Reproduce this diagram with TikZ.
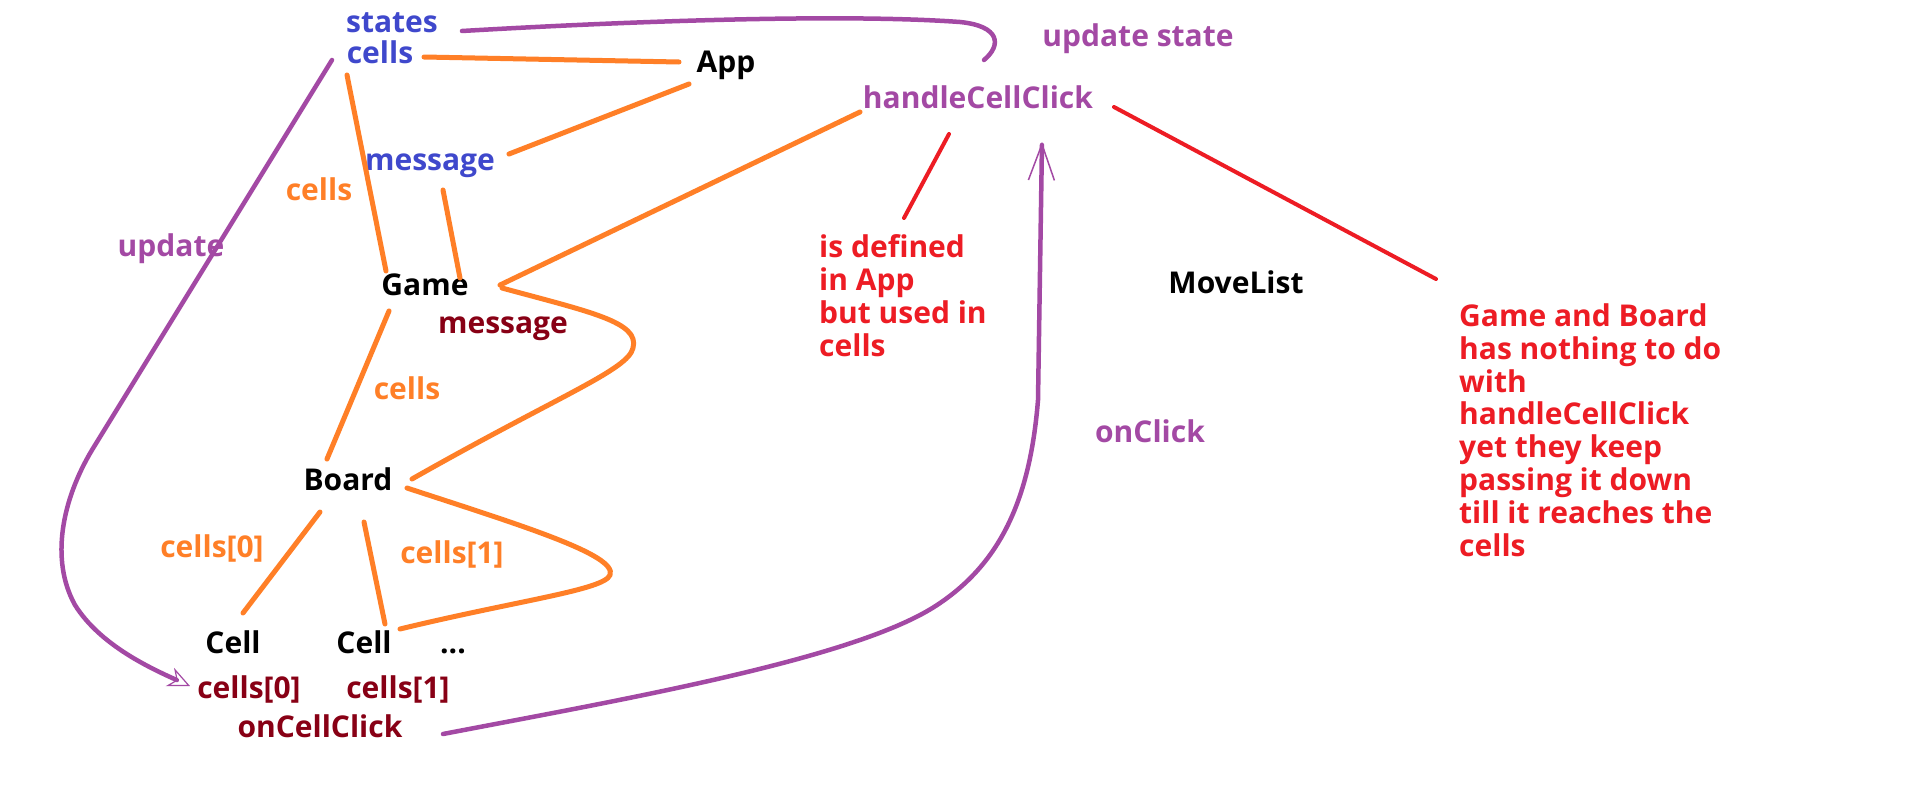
\documentclass[tikz,border=0pt]{standalone}
\usepackage{fontspec}
\setmainfont{Open Sans}
\usetikzlibrary{arrows.meta}
\definecolor{cblue}{HTML}{3F48CC}
\definecolor{corange}{HTML}{FF7F27}
\definecolor{cpurple}{HTML}{A349A4}
\definecolor{cred}{HTML}{ED1C24}
\definecolor{cdark}{HTML}{880015}
\begin{document}
\begin{tikzpicture}[x=1pt,y=-1pt,
  lbl/.style={font=\fontsize{30}{32.8}\selectfont\bfseries, inner sep=0pt, anchor=base},
  note/.style={lbl, text=cred, align=left, anchor=base west},
  oline/.style={draw=corange, line width=5pt, line cap=round},
  pline/.style={draw=cpurple, line width=4.5pt, line cap=round},
  rline/.style={draw=cred, line width=4pt, line cap=round},
]
\useasboundingbox (0,0) rectangle (1914,785);
\fill[white] (0,0) rectangle (1914,785);

% nodes
\node[lbl,text=cblue] (states) at (392,32) {states};
\node[lbl,text=cblue] (cellsA) at (380,63) {cells};
\node[lbl] (app) at (726,72) {App};
\node[lbl,text=cpurple] (upd) at (1138,46) {update state};
\node[lbl,text=cpurple] (hcc) at (978,108) {handleCellClick};
\node[lbl,text=cblue] (msgA) at (430,170) {message};
\node[lbl,text=corange] (cellsB) at (319,200) {cells};
\node[lbl,text=cpurple] (update) at (171,256) {update};
\node[lbl] (game) at (425,295) {Game};
\node[lbl,text=cdark] (msgB) at (503,333) {message};
\node[note] (def) at (819,356) {is defined\\in App\\but used in\\cells};
\node[lbl] (move) at (1236,293) {MoveList};
\node[note] (gab) at (1459,556) {Game and Board\\has nothing to do\\with\\handleCellClick\\yet they keep\\passing it down\\till it reaches the\\cells};
\node[lbl,text=corange] (cellsC) at (407,399) {cells};
\node[lbl,text=cpurple] (onclick) at (1150,442) {onClick};
\node[lbl] (board) at (348,490) {Board};
\node[lbl,text=corange] (c0) at (212,557) {cells[0]};
\node[lbl,text=corange] (c1) at (452,563) {cells[1]};
\node[lbl] (cell1) at (233,653) {Cell};
\node[lbl] (cell2) at (364,653) {Cell};
\node[lbl] (dots) at (453,653) {...};
\node[lbl,text=cdark] (c0b) at (249,698) {cells[0]};
\node[lbl,text=cdark] (c1b) at (398,698) {cells[1]};
\node[lbl,text=cdark] (occ) at (320,737) {onCellClick};

% connector end points
\coordinate (cellsAe) at (424,57);
\coordinate (appw) at (679,62);
\coordinate (apps) at (689,84);
\coordinate (msgAe) at (509,154);
\coordinate (cellsAs) at (347,75);
\coordinate (gamen) at (386,271);
\coordinate (msgAs) at (443,190);
\coordinate (gamene) at (460,278);
\coordinate (hccw) at (860,112);
\coordinate (gamee) at (500,285);
\coordinate (gamee2) at (502,288);
\coordinate (boardne) at (412,479);
\coordinate (games) at (389,311);
\coordinate (boardn) at (327,459);
\coordinate (boardsw) at (320,512);
\coordinate (cella) at (243,613);
\coordinate (boards) at (364,522);
\coordinate (cellb) at (385,624);
\coordinate (boarde) at (407,488);
\coordinate (cellbe) at (400,629);
\coordinate (statese) at (462,31);
\coordinate (upde) at (984,60);
\coordinate (cellsAw) at (332,60);
\coordinate (c0bw) at (190,686);
\coordinate (occe) at (443,734);
\coordinate (hccs) at (1042,142);
\coordinate (hccs2) at (949,134);
\coordinate (defn) at (904,218);
\coordinate (hcce) at (1114,107);
\coordinate (gabn) at (1436,279);

% orange connectors
\draw[oline] (cellsAe) -- (appw);
\draw[oline] (apps) -- (msgAe);
\draw[oline] (cellsAs) -- (gamen);
\draw[oline] (msgAs) -- (gamene);
\draw[oline] (hccw) -- (gamee);
\draw[oline] (gamee2) .. controls (590,312) and (640,322) .. (633,348)
                      .. controls (628,370) and (560,395) .. (boardne);
\draw[oline] (games) -- (boardn);
\draw[oline] (boardsw) -- (cella);
\draw[oline] (boards) -- (cellb);
\draw[oline] (boarde) .. controls (520,525) and (618,555) .. (610,575)
                      .. controls (604,590) and (520,600) .. (cellbe);

% purple connectors
\draw[pline] (statese) .. controls (650,20) and (850,14) .. (960,22)
                       .. controls (1000,26) and (1002,45) .. (upde);
\draw[pline, -{Stealth[open, length=22pt, width=20pt, line width=1.2pt]}]
  (cellsAw) -- (92,450) .. controls (62,500) and (50,560) .. (75,605)
  .. controls (100,645) and (150,668) .. (c0bw);
\draw[pline, -{Straight Barb[length=36pt, width=26pt, line width=1.5pt]}]
  (occe) .. controls (620,700) and (850,660) .. (934,607)
  .. controls (1000,565) and (1030,500) .. (1038,400) -- (hccs);

% red connectors
\draw[rline] (hccs2) -- (defn);
\draw[rline] (hcce) -- (gabn);
\end{tikzpicture}
\end{document}
